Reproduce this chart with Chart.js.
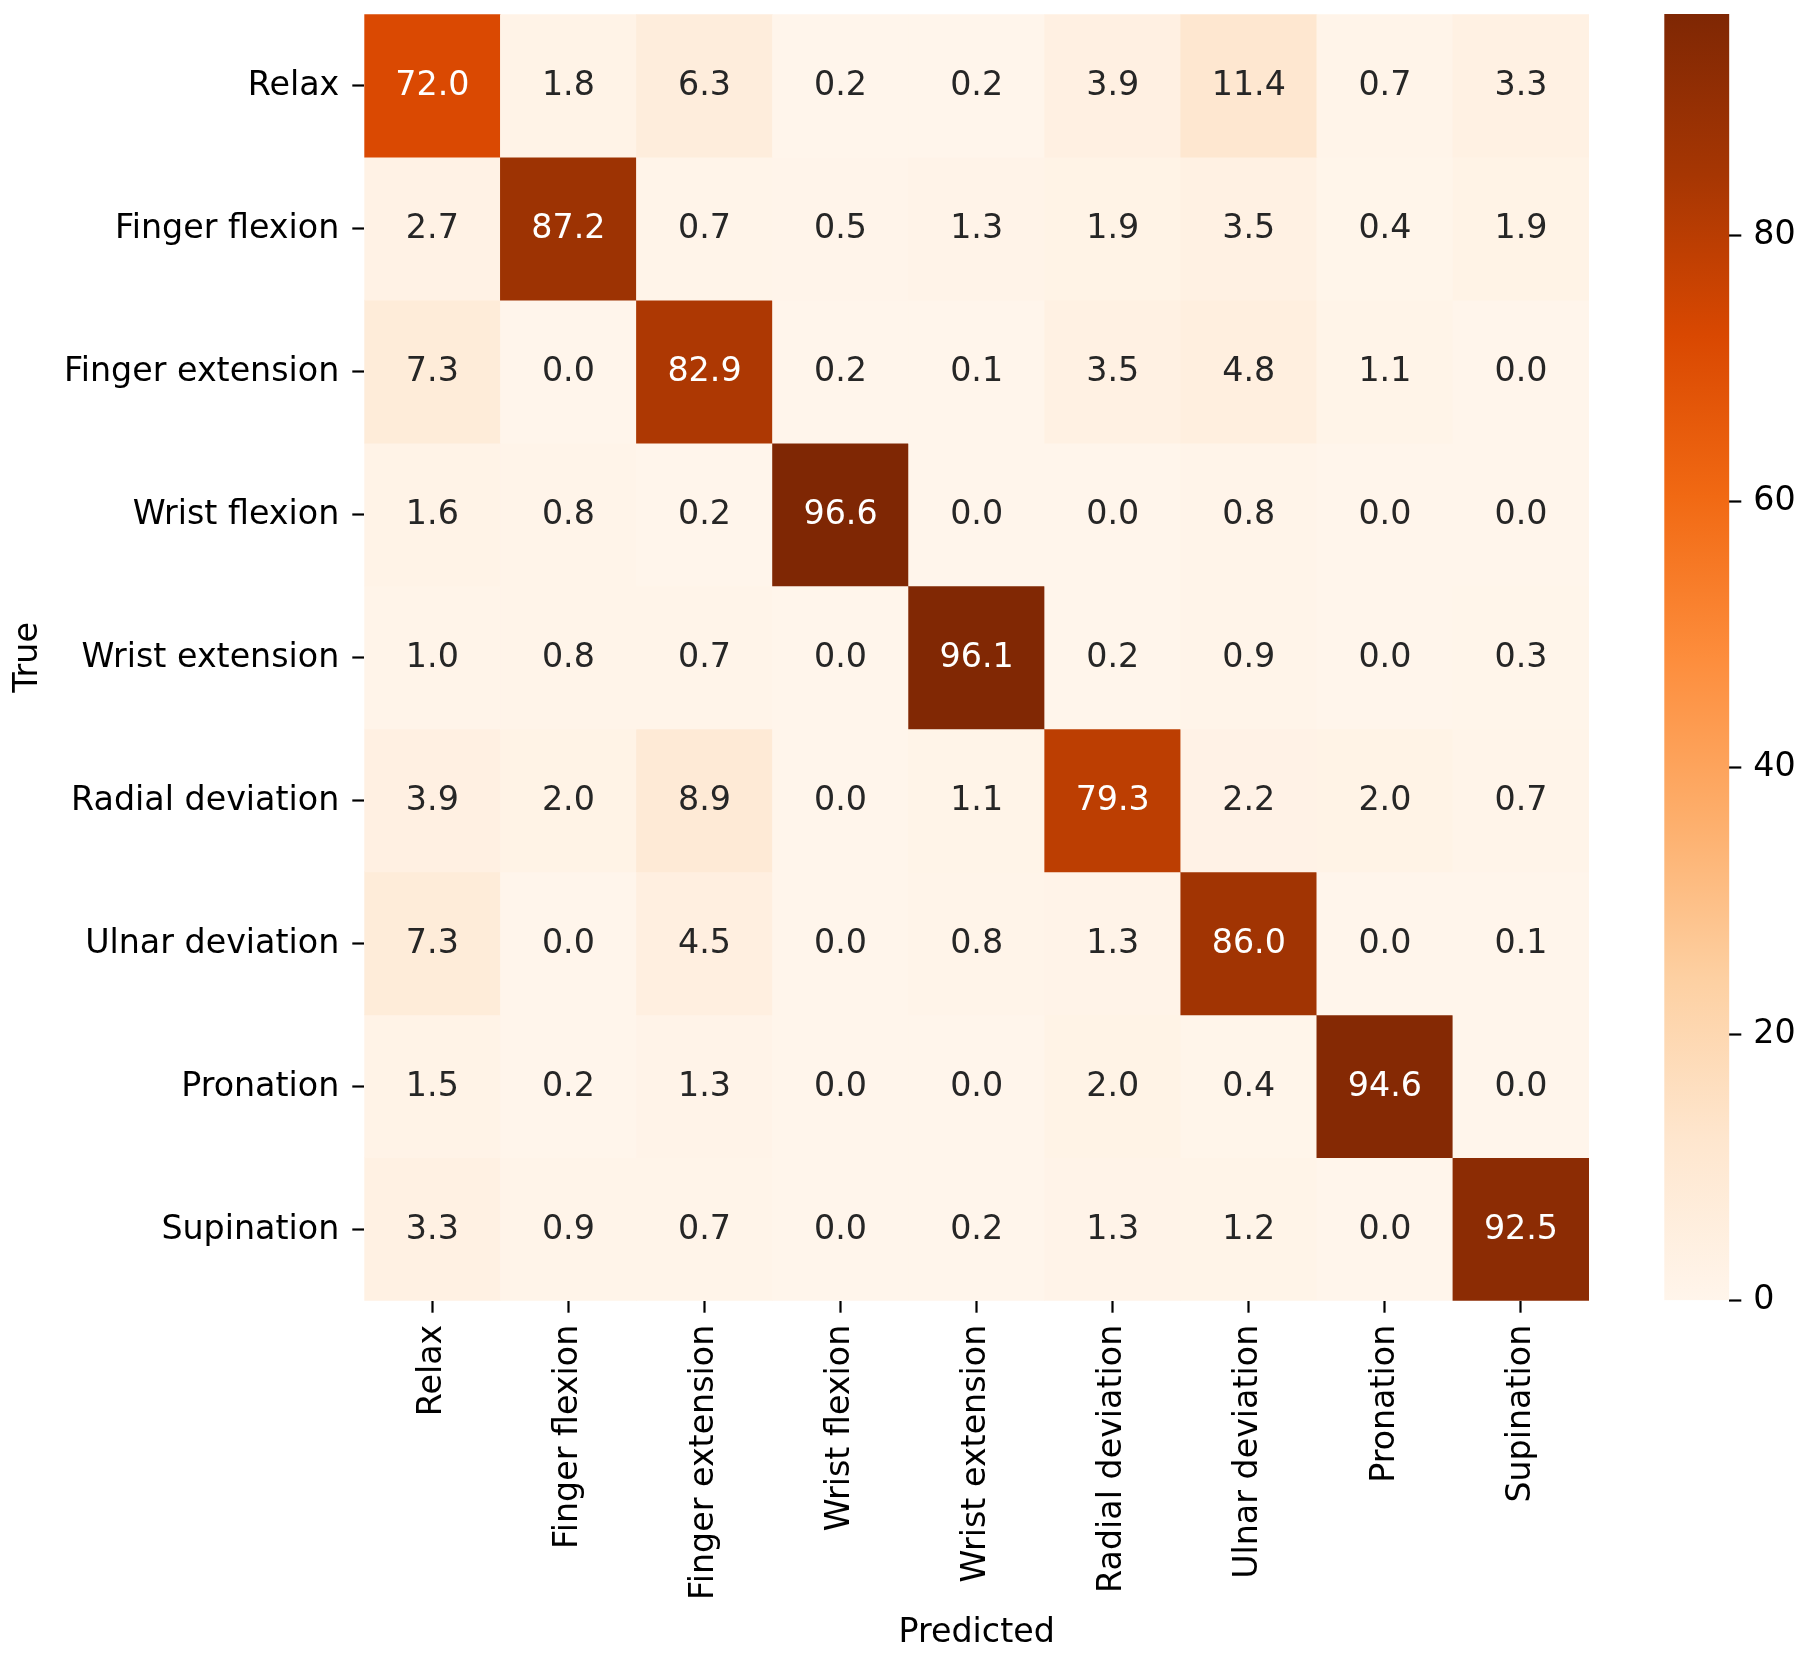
<!DOCTYPE html>
<html><head><meta charset="utf-8">
<script src="https://cdn.jsdelivr.net/npm/chart.js@4.4.0/dist/chart.umd.min.js"></script>
<style>
html,body{margin:0;padding:0;background:#fff;width:1808px;height:1659px;overflow:hidden}
#main{position:absolute;left:0;top:0;width:1808px;height:1659px}
#cbar{position:absolute;left:1600px;top:0;width:208px;height:1659px}
</style></head><body>
<canvas id="main" width="1808" height="1659"></canvas>
<canvas id="cbar" width="208" height="1659"></canvas>
<script>
// ---------------- data ----------------
const predictedLabels = ['Relax','Finger flexion','Finger extension','Wrist flexion','Wrist extension','Radial deviation','Ulnar deviation','Pronation','Supination'];
const trueLabels = ['Relax','Finger flexion','Finger extension','Wrist flexion','Wrist extension','Radial deviation','Ulnar deviation','Pronation','Supination'];
const relaxRow           = [72.0, 1.8, 6.3, 0.2, 0.2, 3.9, 11.4, 0.7, 3.3];
const fingerFlexionRow   = [2.7, 87.2, 0.7, 0.5, 1.3, 1.9, 3.5, 0.4, 1.9];
const fingerExtensionRow = [7.3, 0.0, 82.9, 0.2, 0.1, 3.5, 4.8, 1.1, 0.0];
const wristFlexionRow    = [1.6, 0.8, 0.2, 96.6, 0.0, 0.0, 0.8, 0.0, 0.0];
const wristExtensionRow  = [1.0, 0.8, 0.7, 0.0, 96.1, 0.2, 0.9, 0.0, 0.3];
const radialDeviationRow = [3.9, 2.0, 8.9, 0.0, 1.1, 79.3, 2.2, 2.0, 0.7];
const ulnarDeviationRow  = [7.3, 0.0, 4.5, 0.0, 0.8, 1.3, 86.0, 0.0, 0.1];
const pronationRow       = [1.5, 0.2, 1.3, 0.0, 0.0, 2.0, 0.4, 94.6, 0.0];
const supinationRow      = [3.3, 0.9, 0.7, 0.0, 0.2, 1.3, 1.2, 0.0, 92.5];
const colorbarTicks = [0, 20, 40, 60, 80];
const axisTitleX = 'Predicted';
const axisTitleY = 'True';

const rows = [relaxRow, fingerFlexionRow, fingerExtensionRow, wristFlexionRow, wristExtensionRow,
              radialDeviationRow, ulnarDeviationRow, pronationRow, supinationRow];
const vmin = 0;
const vmax = Math.max(...rows.flat());

// matplotlib "Oranges" colormap anchor colours
const orangesStops = [
  [255,245,235],[254,230,206],[253,208,162],[253,174,107],[253,141,60],
  [241,105,19],[217,72,1],[166,54,3],[127,39,4]
];
function cmap(t){
  t = Math.min(1, Math.max(0, t));
  const p = t * (orangesStops.length - 1);
  const i = Math.min(orangesStops.length - 2, Math.floor(p));
  const f = p - i;
  const a = orangesStops[i], b = orangesStops[i+1];
  return [0,1,2].map(k => a[k] + (b[k]-a[k]) * f);
}
function rgbStr(c){ return 'rgb(' + c.map(v => Math.round(v)).join(',') + ')'; }
function valueColor(v){ return rgbStr(cmap((v - vmin) / (vmax - vmin))); }
function textColorFor(v){
  const c = cmap((v - vmin) / (vmax - vmin)).map(x => {
    x /= 255; return x <= 0.03928 ? x / 12.92 : Math.pow((x + 0.055) / 1.055, 2.4);
  });
  const l = 0.2126*c[0] + 0.7152*c[1] + 0.0722*c[2];
  return l > 0.408 ? '#262626' : '#ffffff';
}

const FONT = 'DejaVu Sans';
const FS = 33.3;
Chart.defaults.font.family = FONT;
Chart.defaults.font.size = FS;
Chart.defaults.color = '#000';

function noPad(s){ s.paddingTop = 0; s.paddingBottom = 0; s.paddingLeft = 0; s.paddingRight = 0; }

const datasets = rows.map((row, i) => ({
  label: trueLabels[i],
  data: row.map(() => [i, i + 1]),
  backgroundColor: row.map(v => valueColor(v)),
  borderWidth: 0,
  barPercentage: 1,
  categoryPercentage: 1,
  grouped: false
}));

const annotPlugin = {
  id: 'annot',
  afterDatasetsDraw(chart){
    const {ctx, scales:{x, y}} = chart;
    ctx.save();
    ctx.font = FS + 'px "' + FONT + '"';
    ctx.textAlign = 'center';
    ctx.textBaseline = 'middle';
    rows.forEach((row, i) => {
      row.forEach((v, j) => {
        ctx.fillStyle = textColorFor(v);
        ctx.fillText(v.toFixed(1), x.getPixelForValue(j), y.getPixelForValue(i + 0.5) + 0.8);
      });
    });
    ctx.restore();
  }
};

new Chart(document.getElementById('main'), {
  type: 'bar',
  data: { labels: predictedLabels, datasets },
  options: {
    responsive: false,
    animation: false,
    devicePixelRatio: 1,
    layout: { padding: { left: 0, right: 219, top: 14.3, bottom: 0 } },
    plugins: { legend: { display: false }, tooltip: { enabled: false } },
    scales: {
      x: {
        type: 'category',
        offset: true,
        border: { display: false },
        grid: { offset: false, drawOnChartArea: false, drawTicks: true, tickLength: 12, tickWidth: 2.2, tickColor: '#000' },
        ticks: { autoSkip: false, maxRotation: 90, minRotation: 90, padding: 12, color: '#000', font: { size: FS } },
        title: { display: true, text: axisTitleX, color: '#000', font: { size: FS, lineHeight: 1.2 }, padding: { top: 0, bottom: 5.5 } },
        afterFit(s){ s.height = 1659 - 1300.7; noPad(s); }
      },
      y: {
        type: 'linear',
        min: 0, max: 9,
        reverse: true,
        border: { display: false },
        grid: { drawOnChartArea: false, drawTicks: true, tickLength: 12, tickWidth: 2.2, tickColor: '#000' },
        afterBuildTicks(s){ s.ticks = trueLabels.map((_, i) => ({ value: i + 0.5 })); },
        ticks: { padding: 13, labelOffset: 0.8, color: '#000', font: { size: FS },
                 callback(value, index){ return trueLabels[index]; } },
        title: { display: true, text: axisTitleY, color: '#000', font: { size: FS, lineHeight: 1.2 }, padding: { top: 8.5, bottom: 0 } },
        afterFit(s){ s.width = 364.3; noPad(s); }
      }
    }
  },
  plugins: [annotPlugin]
});

// ---------------- colorbar ----------------
new Chart(document.getElementById('cbar'), {
  type: 'bar',
  data: {
    labels: [''],
    datasets: [{
      data: [[vmin, vmax]],
      borderWidth: 0,
      barPercentage: 1,
      categoryPercentage: 1,
      backgroundColor(context){
        const chart = context.chart;
        const area = chart.chartArea;
        if (!area) return null;
        const ys = chart.scales.y;
        const y0 = ys.getPixelForValue(vmin), y1 = ys.getPixelForValue(vmax);
        const g = chart.ctx.createLinearGradient(0, y0, 0, y1);
        orangesStops.forEach((c, k) => g.addColorStop(k / (orangesStops.length - 1), rgbStr(c)));
        return g;
      }
    }]
  },
  options: {
    responsive: false,
    animation: false,
    devicePixelRatio: 1,
    layout: { padding: { left: 64.3, right: 0, top: 14, bottom: 1659 - 1300.5 } },
    plugins: { legend: { display: false }, tooltip: { enabled: false } },
    scales: {
      x: { display: false },
      y: {
        type: 'linear',
        position: 'right',
        min: vmin, max: vmax,
        border: { display: false },
        grid: { drawOnChartArea: false, drawTicks: true, tickLength: 12, tickWidth: 2.2, tickColor: '#000' },
        afterBuildTicks(s){ s.ticks = colorbarTicks.map(v => ({ value: v })); },
        ticks: { padding: 12, color: '#000', font: { size: FS }, callback(v){ return String(v); } },
        afterFit(s){ s.width = 1808 - 1600 - 129.3; noPad(s); }
      }
    }
  }
});
</script>
</body></html>
